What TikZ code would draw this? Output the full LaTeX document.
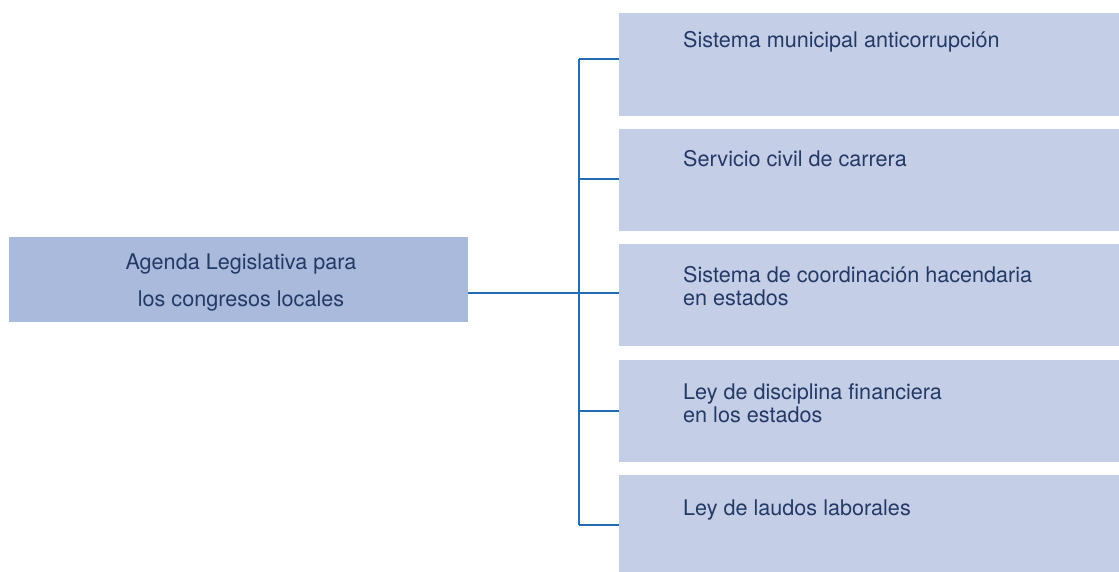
\documentclass[tikz,border=0pt]{standalone}
\usepackage{fontspec}
\setmainfont{TeX Gyre Heros}
\usetikzlibrary{calc}
\definecolor{mainfill}{HTML}{AABADC}
\definecolor{itemfill}{HTML}{C5CEE7}
\definecolor{txtblue}{HTML}{233A66}
\definecolor{lineblue}{HTML}{1F6DB3}
\tikzset{%
	box/.style args={#1 and #2}{draw=none,fill=#1,inner sep=0pt,minimum width=#2,anchor=north west},
	txt/.style={inner sep=0pt,anchor=base west,text=txtblue,font=\fontsize{21.6}{23}\selectfont},
	link/.style={draw=lineblue,line width=2pt}
}
\begin{document}
\begin{tikzpicture}[x=1pt,y=-1pt]
				\useasboundingbox (0,0) rectangle (1119,572);
				% main box
				\node [box=mainfill and 459pt, minimum height=85pt] (agenda) at (9,237) {};
				\node [txt, anchor=base] (agenda1) at (241,269.5) {Agenda Legislativa para};
				\node [txt, anchor=base] (agenda2) at (241,306.5) {los congresos locales};
				% item boxes
				\node [box=itemfill and 500pt, minimum height=103pt] (b1) at (619,13) {};
				\node [box=itemfill and 500pt, minimum height=102pt] (b2) at (619,128.5) {};
				\node [box=itemfill and 500pt, minimum height=102pt] (b3) at (619,243.5) {};
				\node [box=itemfill and 500pt, minimum height=102pt] (b4) at (619,359.5) {};
				\node [box=itemfill and 500pt, minimum height=97pt] (b5) at (619,475) {};
				\node [txt] (t1) at (683,48) {Sistema municipal anticorrupción};
				\node [txt] (t2) at (683,167) {Servicio civil de carrera};
				\node [txt] (t3) at (683,282) {Sistema de coordinación hacendaria};
				\node [txt] (t3b) at (683,305) {en estados};
				\node [txt] (t4) at (683,399) {Ley de disciplina financiera};
				\node [txt] (t4b) at (683,422) {en los estados};
				\node [txt] (t5) at (683,515) {Ley de laudos laborales};
				% trunk
				\coordinate (k1) at (579,59);
				\coordinate (k2) at (579,179);
				\coordinate (k3) at (579,293);
				\coordinate (k4) at (579,411);
				\coordinate (k5) at (579,524.5);
				\draw [link] (k1) -- (k5);
				\draw [link] (k3 -| agenda.east) -- (k3);
				\foreach \i in {1,...,5}
					\draw [link] (k\i) -- (k\i -| b\i.west);
			\end{tikzpicture}
\end{document}
